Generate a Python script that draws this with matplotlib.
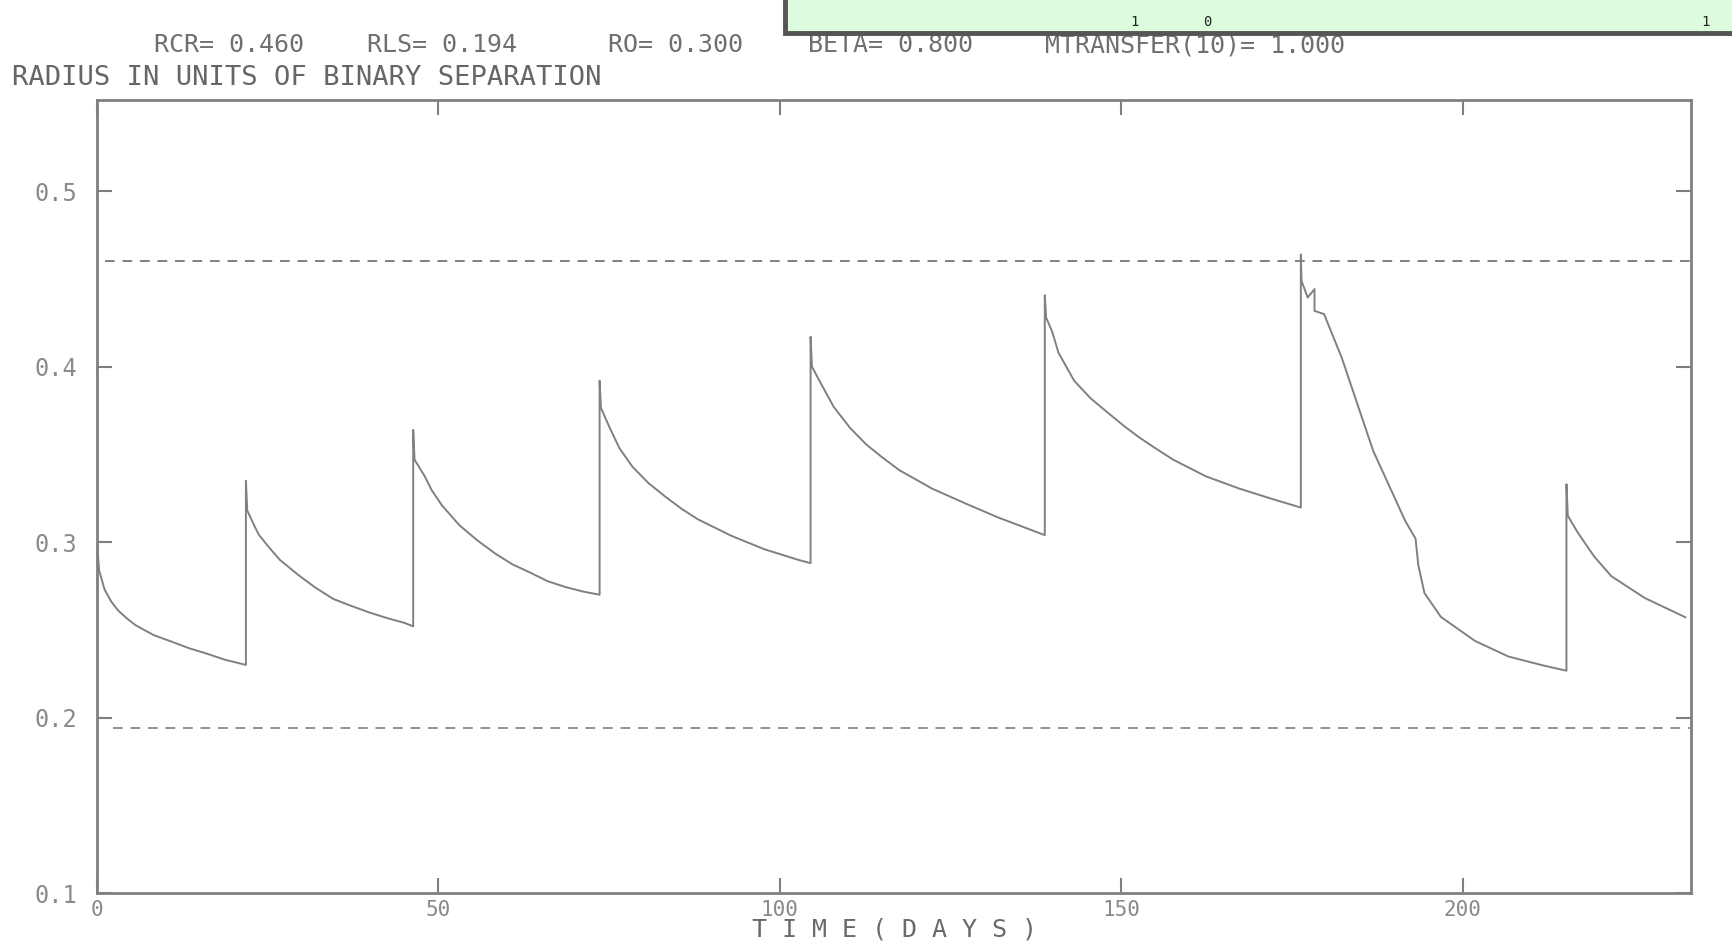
import numpy as np
import matplotlib
matplotlib.use("Agg")
import matplotlib.pyplot as plt
from matplotlib.patches import Rectangle

plt.rcParams['font.family'] = ['DejaVu Sans Mono']

# header values
rcr = 0.460
rls = 0.194
header = ["RCR= 0.460", "RLS= 0.194", "RO= 0.300", "BETA= 0.800", "MTRANSFER(10)= 1.000"]
box_marks = ["1", "0", "1"]

# radius curve (days, radius in units of binary separation)
time_days = [0.0, 0.3, 1.1, 2.1, 3.1, 4.4, 5.7, 8.3, 10.9, 13.5, 16.1, 18.7, 21.8,
             21.8, 22.0, 23.2, 23.7, 25.3, 26.8, 29.4, 32.0, 34.6, 37.2, 39.8, 42.4, 45.0, 46.3,
             46.3, 46.5, 48.0, 49.0, 50.5, 53.1, 55.7, 58.2, 60.8, 63.4, 66.0, 68.6, 71.2, 73.6,
             73.6, 73.8, 75.1, 76.5, 78.4, 80.8, 83.2, 85.6, 88.0, 92.9, 97.7, 102.6, 104.5,
             104.5, 104.7, 106.0, 107.9, 110.3, 112.7, 115.1, 117.5, 122.3, 127.2, 132.0, 136.9, 138.8,
             138.8, 139.0, 139.9, 140.8, 143.1, 145.5, 147.9, 150.4, 152.7, 155.2, 157.6, 162.4,
             167.3, 172.1, 176.3,
             176.3, 176.4, 177.3, 178.3, 178.3, 179.7, 182.3, 186.9, 191.6, 193.1, 193.5, 194.4,
             196.8, 201.8, 206.7, 211.7, 215.2,
             215.2, 215.4, 216.9, 219.3, 221.8, 226.7, 232.6]
radius = [0.300, 0.284, 0.273, 0.266, 0.261, 0.2564, 0.2525, 0.247, 0.2433, 0.2395, 0.2364, 0.233, 0.230,
          0.335, 0.318, 0.308, 0.3042, 0.2965, 0.2898, 0.2815, 0.2740, 0.2676, 0.2637, 0.260, 0.2568,
          0.254, 0.252,
          0.364, 0.347, 0.3375, 0.3297, 0.321, 0.3095, 0.301, 0.2938, 0.2874, 0.2827, 0.2777, 0.2744,
          0.2718, 0.270,
          0.392, 0.3765, 0.365, 0.3536, 0.343, 0.3335, 0.326, 0.319, 0.313, 0.3036, 0.296, 0.290, 0.288,
          0.417, 0.400, 0.3905, 0.377, 0.365, 0.3555, 0.3480, 0.341, 0.3305, 0.3220, 0.3140, 0.3068, 0.304,
          0.4407, 0.428, 0.4198, 0.408, 0.392, 0.3820, 0.3742, 0.3662, 0.3595, 0.3530, 0.347, 0.3375,
          0.3305, 0.3246, 0.3197,
          0.464, 0.449, 0.4394, 0.4442, 0.4318, 0.430, 0.405, 0.352, 0.312, 0.302, 0.287, 0.271,
          0.2574, 0.2437, 0.2348, 0.2298, 0.2267,
          0.333, 0.315, 0.3052, 0.2916, 0.2805, 0.2681, 0.2572]

xticks = [0, 50, 100, 150, 200]
yticks = [0.1, 0.2, 0.3, 0.4, 0.5]

grey = "#7f7f7f"
fig = plt.figure(figsize=(17.33, 9.47), dpi=100)
ax = fig.add_axes([0.056, 0.057, 0.92, 0.8374])

ax.plot(time_days, radius, color="#808080", lw=1.4)
ax.axhline(rcr, xmin=0.005, color="#808080", lw=1.4, dashes=(5, 4))
ax.axhline(rls, xmin=0.01, color="#909090", lw=1.4, dashes=(5, 4))

ax.set_xlim(0, 233.5)
ax.set_ylim(0.1, 0.552)
ax.set_xticks(xticks)
ax.set_xticklabels([str(t) for t in xticks])
ax.set_yticks(yticks)
ax.set_yticklabels([f"{t:.1f}" for t in yticks])
ax.tick_params(direction="in", length=11, width=1.5, color=grey,
               top=True, right=True, labelcolor="#8a8a8a")
ax.tick_params(axis="y", pad=14, labelsize=17)
ax.tick_params(axis="x", pad=5, labelsize=15)
for sp in ax.spines.values():
    sp.set_color(grey)
    sp.set_linewidth(2)

# axis label under the x tick labels
fig.text(0.516, 0.006, "T I M E ( D A Y S )", fontsize=18, color="#6a6a6a",
         ha="center", va="bottom")

# header line and axis title
hx = [0.089, 0.212, 0.351, 0.466, 0.603]
for x, s in zip(hx, header):
    fig.text(x, 0.945, s, fontsize=18, color="#707070")
fig.text(0.007, 0.910, "RADIUS IN UNITS OF BINARY SEPARATION", fontsize=19.5, color="#666666")

# green box at top edge
fig.patches.append(Rectangle((0.453, 0.965), 0.56, 0.05, transform=fig.transFigure,
                             facecolor="#ddfcdd", edgecolor="#555555", lw=3.5, zorder=5))
for x, s in zip([0.652, 0.694, 0.982], box_marks):
    fig.text(x, 0.973, s, fontsize=10, color="#222222", zorder=6)

fig.savefig("out.png", dpi=100)
